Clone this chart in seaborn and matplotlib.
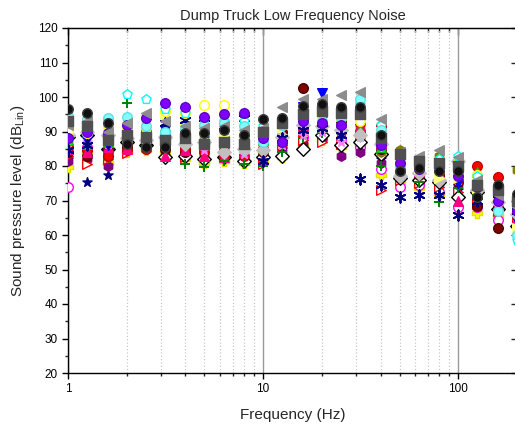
import matplotlib
matplotlib.use('Agg')
import numpy as np
import pandas as pd
import matplotlib.pyplot as plt
import seaborn as sns
from matplotlib.ticker import FixedLocator, MultipleLocator, FuncFormatter, NullFormatter

sns.set_style('ticks')
plt.rcParams['font.family'] = ['Liberation Sans', 'DejaVu Sans']
plt.rcParams['mathtext.fontset'] = 'custom'
plt.rcParams['mathtext.rm'] = 'Liberation Sans'
plt.rcParams['mathtext.it'] = 'Liberation Sans'

# 1/3 octave band centres (Hz)
freq = [1, 1.25, 1.6, 2, 2.5, 3.15, 4, 5, 6.3, 8, 10, 12.5, 16, 20, 25, 31.5, 40, 50, 63, 80, 100, 125, 160, 200]

dgray_sq = [93.0, 91.5, 87.5, 89.0, 88.5, 87.5, 88.0, 86.5, 87.0, 86.5, 90.0, 92.5, 95.0, 96.0, 95.5, 95.0, 88.0, 83.5, 81.5, 81.0, 80.0, 74.5, 73.0, 70.0]
gray_tri = [92.0, 93.0, 90.0, 92.5, 95.5, 93.0, 91.5, 91.0, 91.5, 90.5, 91.0, 97.0, 99.5, 99.5, 100.5, 101.5, 93.5, 84.0, 83.0, 84.5, 82.5, 76.0, 71.5, 68.0]
silver_dia = [89.0, 90.0, 89.0, 88.0, 87.5, 88.5, 86.5, 87.0, 84.0, 85.0, 84.5, 88.5, 92.0, 91.5, 90.5, 89.0, 86.5, 77.0, 78.0, 76.0, 81.5, 73.0, 69.5, 66.0]
cyan_ball = [94.5, 93.5, 94.0, 94.3, 91.5, 90.0, 91.0, 92.0, 92.5, 91.5, 87.0, 92.0, 94.0, 93.0, 94.0, 99.5, 90.5, 80.0, 80.5, 79.5, 80.0, 75.0, 67.0, 60.0]
violet_ball = [88.0, 90.0, 89.5, 92.0, 94.0, 98.2, 97.2, 94.3, 95.0, 95.5, 88.0, 87.0, 93.0, 92.5, 92.0, 96.0, 86.0, 81.0, 79.0, 80.3, 77.0, 74.0, 70.0, 67.0]
pink_star = [87.0, 87.0, 86.5, 90.5, 89.5, 87.0, 87.5, 84.5, 86.0, 83.5, 86.5, 86.0, 89.0, 90.0, 87.0, 88.5, 87.5, 82.5, 80.5, 79.0, 76.0, 72.5, 71.0, 68.5]
rose_tri = [85.0, 84.0, 85.5, 85.0, 86.0, 83.0, 84.5, 83.0, 82.5, 84.0, 82.0, 89.0, 91.5, 91.5, 89.5, 91.5, 86.5, 79.0, 78.5, 78.0, 70.0, 72.0, 69.0, 65.0]
red_open_tri = [83.0, 80.5, 82.0, 83.7, 88.0, 86.0, 82.5, 85.5, 83.5, 82.0, 80.5, 86.0, 87.5, 87.0, 86.5, 88.0, 73.0, 76.0, 75.0, 74.0, 72.5, 69.0, 67.0, 64.0]
navy_star = [82.0, 75.5, 77.5, 86.0, 87.0, 89.0, 87.0, 88.0, 87.5, 88.0, 86.0, 85.0, 93.5, 94.0, 92.5, 92.5, 82.0, 78.0, 76.5, 77.0, 73.0, 70.5, 68.0, 65.5]
navy_ast = [84.5, 86.0, 87.0, 89.5, 90.0, 92.5, 93.3, 92.5, 91.5, 94.0, 81.5, 88.0, 90.5, 91.0, 89.0, 76.2, 74.5, 71.0, 71.6, 71.5, 65.8, 70.0, 70.5, 67.0]
green_plus = [86.0, 88.5, 88.0, 98.4, 90.5, 88.0, 80.6, 79.7, 81.5, 80.5, 80.0, 84.0, 88.0, 89.5, 88.0, 89.5, 80.0, 79.5, 75.5, 69.7, 73.5, 71.5, 72.0, 68.0]
lyellow_tri = [91.0, 91.0, 90.5, 91.0, 93.5, 94.5, 92.0, 90.0, 89.0, 88.5, 88.5, 91.0, 94.5, 95.0, 94.5, 94.0, 90.0, 80.5, 79.5, 76.5, 76.5, 73.5, 70.5, 62.0]
olive_hex = [86.5, 85.0, 82.5, 87.5, 87.0, 86.0, 85.5, 85.0, 85.0, 84.5, 85.5, 87.5, 90.0, 90.5, 90.0, 91.0, 84.0, 84.6, 81.7, 83.0, 79.0, 75.5, 74.0, 78.8]
purple_hex = [81.5, 82.0, 80.0, 88.5, 85.0, 84.5, 83.5, 83.5, 84.5, 82.5, 83.0, 84.5, 86.5, 88.0, 82.9, 84.0, 81.0, 77.5, 77.0, 75.0, 74.5, 71.5, 69.5, 66.5]
maroon_ball = [84.0, 83.0, 84.5, 85.5, 86.5, 85.0, 84.0, 86.0, 86.0, 85.5, 84.0, 90.0, 102.6, 96.5, 93.0, 90.0, 85.0, 77.5, 77.5, 77.0, 75.5, 68.5, 62.0, 63.0]
white_dia = [88.5, 89.0, 85.0, 87.0, 86.0, 82.5, 83.0, 82.0, 82.5, 81.5, 82.5, 83.0, 85.0, 89.0, 86.0, 87.0, 83.5, 76.5, 76.0, 75.5, 71.0, 72.5, 67.5, 62.5]
magenta_ring = [74.0, 85.5, 84.0, 86.5, 88.0, 87.5, 86.0, 86.5, 88.5, 87.0, 84.5, 86.5, 88.5, 88.0, 87.5, 85.5, 79.0, 74.0, 74.5, 72.5, 68.0, 68.0, 64.3, 61.0]
cyan_pent = [93.5, 92.5, 93.0, 101.0, 99.3, 96.5, 95.5, 93.5, 93.0, 93.0, 91.5, 93.5, 95.5, 96.0, 96.0, 98.0, 92.0, 83.0, 80.0, 82.0, 83.0, 77.0, 72.5, 58.5]
yellow_ring = [90.0, 89.5, 91.5, 92.0, 91.0, 96.0, 95.5, 97.7, 97.7, 92.0, 90.0, 92.5, 94.0, 95.5, 94.0, 93.0, 88.5, 81.5, 80.0, 80.0, 81.0, 77.5, 73.0, 70.0]
red_ball = [85.5, 84.5, 83.0, 84.5, 85.0, 86.0, 85.0, 84.0, 83.0, 83.0, 85.0, 87.0, 91.0, 92.0, 91.0, 92.5, 91.5, 79.5, 79.0, 78.0, 76.0, 80.0, 76.9, 70.5]
blue_tri = [89.5, 87.5, 86.0, 89.0, 89.0, 90.5, 89.0, 88.5, 89.5, 88.0, 88.0, 91.5, 97.0, 101.2, 95.5, 95.5, 87.5, 80.0, 78.5, 77.5, 75.0, 72.0, 70.0, 64.0]
lime_tri = [87.5, 86.5, 87.0, 93.0, 92.5, 91.5, 90.0, 89.0, 90.0, 89.5, 87.5, 89.5, 93.0, 93.5, 91.5, 90.5, 85.5, 79.5, 79.0, 79.5, 77.5, 78.4, 72.5, 68.5]
yellow_plus = [79.7, 84.0, 81.0, 84.0, 84.5, 84.0, 82.0, 81.0, 81.5, 81.0, 81.5, 82.5, 86.0, 87.5, 85.5, 86.5, 77.5, 75.5, 73.5, 72.0, 71.0, 66.4, 65.5, 66.0]
black_ball = [96.5, 95.5, 92.5, 86.5, 85.5, 85.5, 89.5, 89.5, 90.5, 89.0, 93.5, 94.0, 97.5, 98.0, 97.0, 97.0, 89.0, 78.5, 79.5, 78.5, 78.5, 71.0, 74.5, 72.0]

series = {
    'yellow_plus': yellow_plus, 'magenta_ring': magenta_ring, 'navy_star': navy_star,
    'purple_hex': purple_hex, 'red_open_tri': red_open_tri, 'white_dia': white_dia,
    'olive_hex': olive_hex, 'maroon_ball': maroon_ball, 'red_ball': red_ball,
    'rose_tri': rose_tri, 'green_plus': green_plus, 'pink_star': pink_star,
    'lime_tri': lime_tri, 'blue_tri': blue_tri, 'silver_dia': silver_dia,
    'lyellow_tri': lyellow_tri, 'navy_ast': navy_ast, 'yellow_ring': yellow_ring,
    'cyan_pent': cyan_pent, 'cyan_ball': cyan_ball, 'violet_ball': violet_ball,
    'gray_tri': gray_tri, 'dgray_sq': dgray_sq, 'black_ball': black_ball,
}

# marker, face colour, edge colour
styles = {
    'yellow_plus': ('P', '#ffff00', '#e0e000'),
    'magenta_ring': ('o', 'white', '#ff00ff'),
    'navy_star': ('*', '#000080', '#000080'),
    'purple_hex': ('h', '#800080', '#800080'),
    'red_open_tri': ('>', 'white', '#ff0000'),
    'white_dia': ('D', 'white', '#000000'),
    'olive_hex': ('h', '#808000', '#808000'),
    'maroon_ball': ('o', '#800000', '#500000'),
    'red_ball': ('o', '#ff0000', '#c00000'),
    'rose_tri': ('^', '#ff0080', '#ff0080'),
    'green_plus': ('+', '#008000', '#008000'),
    'pink_star': ('*', '#ff80ff', '#ff80ff'),
    'lime_tri': ('^', '#00ff00', '#00c000'),
    'blue_tri': ('v', '#0000ff', '#0000ff'),
    'silver_dia': ('D', '#c0c0c0', '#c0c0c0'),
    'lyellow_tri': ('>', '#ffff80', '#ffff80'),
    'navy_ast': ((6, 2, 0), '#000080', '#000080'),
    'yellow_ring': ('o', 'white', '#ffff00'),
    'cyan_pent': ('p', 'white', '#00ffff'),
    'cyan_ball': ('o', '#80ffff', '#60e0e0'),
    'violet_ball': ('o', '#8000ff', '#6000c0'),
    'gray_tri': ('<', '#8c8c8c', '#8c8c8c'),
    'dgray_sq': ('s', '#505050', '#505050'),
    'black_ball': ('o', '#101010', '#404040'),
}

fig = plt.figure(figsize=(5.15, 4.25), dpi=100)
ax = fig.add_axes([68 / 515, 52 / 425, 449 / 515, 345 / 425])

for name, vals in series.items():
    m, fc, ec = styles[name]
    unfilled = m in ('+', (6, 2, 0))
    if unfilled:
        sns.scatterplot(x=freq, y=vals, ax=ax, marker=m, s=55, color=fc,
                        linewidth=1.4, zorder=3, legend=False)
    else:
        sns.scatterplot(x=freq, y=vals, ax=ax, marker=m, s=48, color=fc,
                        edgecolor=ec, linewidth=1.0, zorder=3, legend=False)

ax.set_xscale('log')
ax.set_xlim(1, 200)
ax.set_ylim(20, 120)
ax.yaxis.set_major_locator(MultipleLocator(10))
ax.yaxis.set_minor_locator(MultipleLocator(5))
ax.xaxis.set_major_locator(FixedLocator([1, 10, 100]))
ax.xaxis.set_minor_locator(FixedLocator([2, 3, 4, 5, 6, 7, 8, 9, 20, 30, 40, 50, 60, 70, 80, 90, 200]))
ax.xaxis.set_major_formatter(FuncFormatter(lambda v, p: f'{v:g}'))
ax.xaxis.set_minor_formatter(NullFormatter())

ax.set_axisbelow(True)
ax.grid(True, which='minor', axis='x', color='#c8c8c8', linestyle=':', linewidth=0.9)
ax.grid(True, which='major', axis='x', color='#9a9a9a', linestyle='-', linewidth=1.0)
ax.grid(False, axis='y')

for sp in ax.spines.values():
    sp.set_color('black')
    sp.set_linewidth(1.0)

ax.tick_params(which='major', direction='out', length=4, width=1, labelsize=8.5, colors='black')
ax.tick_params(which='minor', direction='out', length=2.5, width=1)
ax.tick_params(axis='x', which='minor', length=2)

top = ax.secondary_xaxis('top')
top.xaxis.set_major_locator(FixedLocator([1, 10, 100]))
top.xaxis.set_minor_locator(FixedLocator([2, 3, 4, 5, 6, 7, 8, 9, 20, 30, 40, 50, 60, 70, 80, 90]))
top.xaxis.set_major_formatter(NullFormatter())
top.xaxis.set_minor_formatter(NullFormatter())
top.tick_params(which='both', direction='in', width=1)
top.tick_params(which='major', length=5)
top.tick_params(which='minor', length=3)

right = ax.secondary_yaxis('right')
right.yaxis.set_major_locator(MultipleLocator(10))
right.yaxis.set_minor_locator(MultipleLocator(5))
right.yaxis.set_major_formatter(NullFormatter())
right.tick_params(which='major', direction='in', length=4, width=1)
right.tick_params(which='minor', length=0)

ax.set_title('Dump Truck Low Frequency Noise', fontsize=10.5, pad=6)
ax.set_xlabel('Frequency (Hz)', fontsize=11, labelpad=9)
ax.set_ylabel('Sound pressure level (dB$_{\\mathrm{Lin}}$)', fontsize=11, labelpad=8)

fig.savefig('out.png', dpi=100)
